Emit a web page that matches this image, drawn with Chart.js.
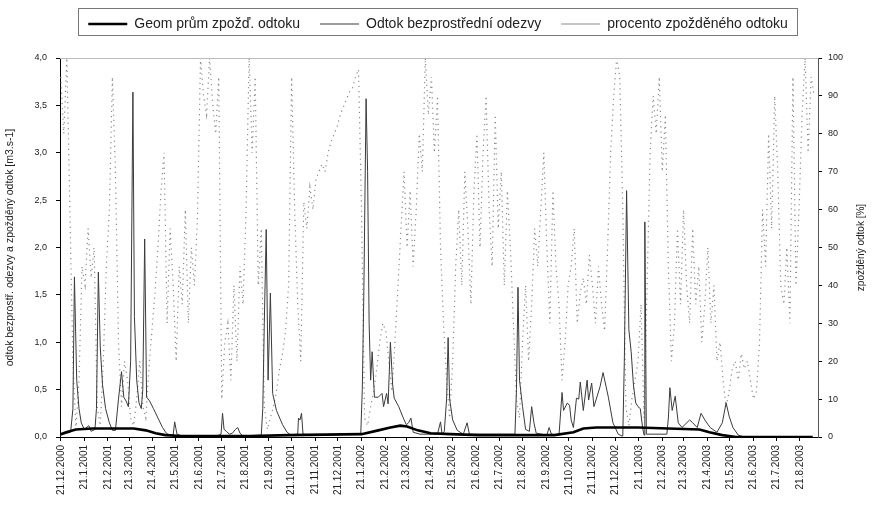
<!DOCTYPE html>
<html lang="cs">
<head>
<meta charset="utf-8">
<title>Odtok</title>
<script src="https://cdn.jsdelivr.net/npm/chart.js@4.4.1/dist/chart.umd.min.js"></script>
<style>
  html, body { margin: 0; padding: 0; background: #fff; }
  #wrap { width: 876px; height: 508px; position: relative; }
</style>
</head>
<body>
<div id="wrap"><canvas id="odtokChart"></canvas></div>
<script>
// popisky osy x (vždy 21. den v měsíci)
const monthLabels = [
  '21.12.2000', '21.1.2001', '21.2.2001', '21.3.2001', '21.4.2001', '21.5.2001',
  '21.6.2001', '21.7.2001', '21.8.2001', '21.9.2001', '21.10.2001', '21.11.2001',
  '21.12.2001', '21.1.2002', '21.2.2002', '21.3.2002', '21.4.2002', '21.5.2002',
  '21.6.2002', '21.7.2002', '21.8.2002', '21.9.2002', '21.10.2002', '21.11.2002',
  '21.12.2002', '21.1.2003', '21.2.2003', '21.3.2003', '21.4.2003', '21.5.2003',
  '21.6.2003', '21.7.2003', '21.8.2003'
];

// [den od 21.12.2000, m3/s]
const geomMean = [
  [0, 0.03], [7, 0.05], [20, 0.08], [42, 0.09], [68, 0.09], [82, 0.09], [96, 0.09],
  [112, 0.07], [125, 0.04], [138, 0.02], [158, 0.01], [250, 0.01], [300, 0.02],
  [396, 0.03], [418, 0.07], [434, 0.1], [447, 0.12], [456, 0.11], [470, 0.07],
  [487, 0.04], [513, 0.03], [550, 0.02], [650, 0.02], [675, 0.05], [688, 0.09],
  [705, 0.1], [760, 0.1], [800, 0.09], [841, 0.08], [854, 0.05], [871, 0.02],
  [889, 0], [990, 0]
];

const immediateRunoff = [
  [0, 0.02], [8, 0.04], [13, 0.05], [16, 0.3], [18, 1.69], [21, 0.6], [24, 0.3], [27, 0.15],
  [31, 0.08], [37, 0.12], [40, 0.06], [45, 0.08], [47, 0.3], [49.5, 1.74], [52, 0.95],
  [55, 0.55], [59, 0.3], [64, 0.15], [68, 0.07], [72, 0.07], [76, 0.4], [80, 0.69],
  [83, 0.42], [86, 0.38], [89, 0.32], [92, 0.8], [95, 3.64], [97, 1.27], [100, 0.6],
  [103, 0.36], [106, 0.3], [108, 0.5], [110.5, 2.09], [113, 0.42], [117, 0.38], [122, 0.3],
  [128, 0.2], [134, 0.1], [139, 0.04], [144, 0.02], [148, 0.02], [150, 0.16], [153, 0.03],
  [160, 0.01], [205, 0.01], [211, 0.03], [213, 0.25], [215, 0.08], [218, 0.06], [222, 0.03],
  [226, 0.04], [230, 0.08], [233, 0.1], [236, 0.04], [240, 0.01], [264, 0.02], [266, 0.3],
  [268, 1.2], [270.5, 2.19], [273, 0.6], [276, 1.52], [279, 0.46], [284, 0.28], [292, 0.13],
  [298, 0.05], [303, 0.02], [312, 0.03], [313, 0.2], [315, 0.18], [317, 0.25], [319, 0.03],
  [330, 0.02], [395, 0.03], [397, 0.5], [399, 1.5], [402, 3.57], [404, 2.8], [406, 1.2],
  [408, 0.6], [410, 0.9], [413, 0.42], [418, 0.42], [423, 0.46], [425, 0.32], [429, 0.46],
  [431, 0.35], [434, 1.0], [437, 0.55], [439, 0.41], [445, 0.32], [451, 0.2], [455, 0.13],
  [458, 0.15], [461, 0.2], [464, 0.05], [473, 0.03], [496, 0.03], [500, 0.16], [502, 0.03],
  [505, 0.06], [508, 0.4], [510, 1.05], [512, 0.4], [516, 0.18], [522, 0.07], [530, 0.03],
  [535, 0.15], [538, 0.03], [598, 0.03], [600, 0.5], [602, 1.58], [604, 0.6], [608, 0.32],
  [612, 0.08], [617, 0.06], [620, 0.32], [623, 0.15], [626, 0.04], [640, 0.02], [643, 0.1],
  [646, 0.03], [656, 0.02], [660, 0.47], [662, 0.28], [667, 0.36], [670, 0.33], [672, 0.18],
  [675, 0.1], [679, 0.41], [682, 0.4], [684, 0.58], [688, 0.28], [693, 0.6], [695, 0.39],
  [699, 0.57], [702, 0.32], [710, 0.53], [714, 0.68], [721, 0.42], [727, 0.15], [734, 0.03],
  [739, 0.01], [740, 0.02], [742, 0.8], [745, 2.6], [748, 1.13], [751, 0.9], [754, 0.55],
  [757, 0.36], [760, 0.32], [763, 0.3], [766, 0.1], [768, 0.02], [769, 2.27], [771, 0.03],
  [798, 0.03], [800, 0.2], [802, 0.52], [805, 0.28], [809, 0.43], [813, 0.15], [818, 0.1],
  [828, 0.18], [832, 0.15], [838, 0.1], [843, 0.25], [848, 0.18], [855, 0.1], [864, 0.05],
  [871, 0.15], [876, 0.36], [880, 0.22], [885, 0.1], [892, 0.02], [900, 0], [990, 0]
];

// procento zpožděného odtoku, hodnota každé 4 dny od 21.12.2000
const delayedShareStep = 4;
const delayedShare = [
  95, 80, 100, 60, 20, 2, 15, 45, 40, 55, 42, 50, 8, 3, 20, 45, 60, 95, 70, 25,
  8, 20, 15, 5, 3, 10, 20, 8, 5, 18, 28, 38, 50, 65, 75, 30, 55, 40, 20, 45,
  35, 60, 30, 50, 40, 58, 100, 90, 85, 100, 88, 80, 95, 10, 25, 30, 15, 40, 20, 45,
  35, 60, 100, 75, 95, 40, 55, 8, 2, 5, 8, 12, 18, 22, 28, 40, 95, 60, 35, 20,
  62, 55, 66, 60, 68, 70, 72, 70, 75, 78, 80, 82, 85, 87, 89, 91, 92, 95, 97, 60,
  5, 3, 8, 12, 18, 25, 30, 28, 20, 12, 25, 40, 55, 70, 50, 65, 45, 60, 80, 70,
  100, 85, 95, 75, 90, 50, 30, 15, 5, 20, 45, 60, 40, 70, 55, 35, 65, 80, 50, 75,
  90, 60, 45, 85, 55, 70, 40, 65, 50, 30, 10, 5, 25, 40, 20, 35, 55, 45, 60, 75,
  50, 30, 65, 45, 35, 15, 25, 40, 45, 55, 30, 38, 42, 35, 48, 40, 30, 45, 35, 28,
  50, 75, 90, 100, 95, 60, 8, 3, 10, 15, 20, 35, 5, 40, 75, 90, 80, 95, 70, 85,
  45, 20, 30, 55, 35, 60, 40, 30, 55, 35, 45, 25, 35, 50, 30, 40, 20, 25, 15, 8,
  12, 18, 20, 15, 22, 18, 20, 15, 10, 12, 25, 60, 45, 80, 55, 90, 70, 40, 35, 50,
  30, 95, 40, 60, 85, 100, 75, 95, 90
];

const DAY_MS = 86400000;
const startUtc = Date.UTC(2000, 11, 21);
function dayOf(label) {
  const [d, m, y] = label.split('.').map(Number);
  return Math.round((Date.UTC(y, m - 1, d) - startUtc) / DAY_MS);
}
const tickDays = monthLabels.map(dayOf);

const toPoints = arr => arr.map(([x, y]) => ({ x, y }));
const sharePoints = delayedShare.map((v, i) => ({ x: i * delayedShareStep, y: v }));

Chart.defaults.font.family = '"Liberation Sans", Arial, sans-serif';
Chart.defaults.color = '#222';

// rámeček kolem legendy, horní okraj grafu a název pravé osy
const frameParts = {
  id: 'frameParts',
  beforeInit(chart) {
    const fitLegend = chart.legend.fit;
    chart.legend.fit = function () {
      fitLegend.call(this);
      this.height = 61;
    };
  },
  afterDraw(chart) {
    const { ctx, chartArea, legend } = chart;
    ctx.save();
    const boxes = legend.legendHitBoxes;
    if (boxes && boxes.length) {
      const first = boxes[0], last = boxes[boxes.length - 1];
      ctx.strokeStyle = '#777';
      ctx.lineWidth = 1;
      ctx.strokeRect(Math.round(first.left) - 9.5, Math.round(first.top) - 8.5,
        Math.round(last.left + last.width - first.left) + 20, 27);
    }
    ctx.strokeStyle = '#bbb';
    ctx.beginPath();
    ctx.moveTo(chartArea.left, chartArea.top + 0.5);
    ctx.lineTo(chartArea.right, chartArea.top + 0.5);
    ctx.stroke();

    ctx.fillStyle = '#222';
    ctx.font = '10px "Liberation Sans", Arial, sans-serif';
    ctx.textAlign = 'center';
    ctx.textBaseline = 'middle';
    ctx.translate(861, (chartArea.top + chartArea.bottom) / 2);
    ctx.rotate(-Math.PI / 2);
    ctx.fillText('zpožděný odtok [%]', 0, 0);
    ctx.restore();
  }
};

new Chart(document.getElementById('odtokChart'), {
  type: 'line',
  data: {
    datasets: [
      {
        label: 'Geom prům zpožď. odtoku',
        data: toPoints(geomMean),
        borderColor: '#000',
        borderWidth: 2.6,
        yAxisID: 'y'
      },
      {
        label: 'Odtok bezprostřední odezvy',
        data: toPoints(immediateRunoff),
        borderColor: '#3a3a3a',
        borderWidth: 1,
        yAxisID: 'y'
      },
      {
        label: 'procento zpožděného odtoku',
        data: sharePoints,
        borderColor: '#8a8a8a',
        borderWidth: 1.2,
        borderDash: [1.2, 4],
        yAxisID: 'y1'
      }
    ]
  },
  options: {
    responsive: true,
    maintainAspectRatio: false,
    animation: false,
    devicePixelRatio: 1,
    elements: { point: { radius: 0 }, line: { tension: 0 } },
    layout: { padding: { top: -3, left: 0, right: 0, bottom: 0 } },
    plugins: {
      tooltip: { enabled: false },
      legend: {
        position: 'top',
        labels: {
          usePointStyle: true,
          pointStyle: 'line',
          pointStyleWidth: 39,
          padding: 20,
          color: '#222',
          font: { size: 14 }
        }
      }
    },
    scales: {
      x: {
        type: 'linear',
        min: -1,
        max: 997,
        afterBuildTicks: scale => {
          scale.ticks = tickDays.map(v => ({ value: v }));
        },
        afterFit: scale => { scale.height = 71; },
        ticks: {
          autoSkip: false,
          minRotation: 90,
          maxRotation: 90,
          padding: 4,
          font: { size: 10 },
          callback: (value, index) => monthLabels[index]
        },
        grid: { drawOnChartArea: false, tickLength: 4, color: '#000' },
        border: { color: '#000' }
      },
      y: {
        position: 'left',
        min: 0,
        max: 4,
        afterFit: scale => { scale.width = 60; },
        ticks: {
          stepSize: 0.5,
          padding: 9,
          font: { size: 9 },
          callback: v => v.toFixed(1).replace('.', ',')
        },
        grid: { drawOnChartArea: false, tickLength: 4, color: '#000' },
        border: { color: '#000' },
        title: {
          display: true,
          text: 'odtok bezprostř. odezvy a zpožděný odtok [m3.s-1]',
          font: { size: 10.5 },
          padding: { top: 4, bottom: 2 }
        }
      },
      y1: {
        position: 'right',
        min: 0,
        max: 100,
        afterFit: scale => { scale.width = 58; },
        ticks: { stepSize: 10, padding: 6, font: { size: 9 } },
        grid: { drawOnChartArea: false, tickLength: 4, color: '#000' },
        border: { color: '#555' }
      }
    }
  },
  plugins: [frameParts]
});
</script>
</body>
</html>
